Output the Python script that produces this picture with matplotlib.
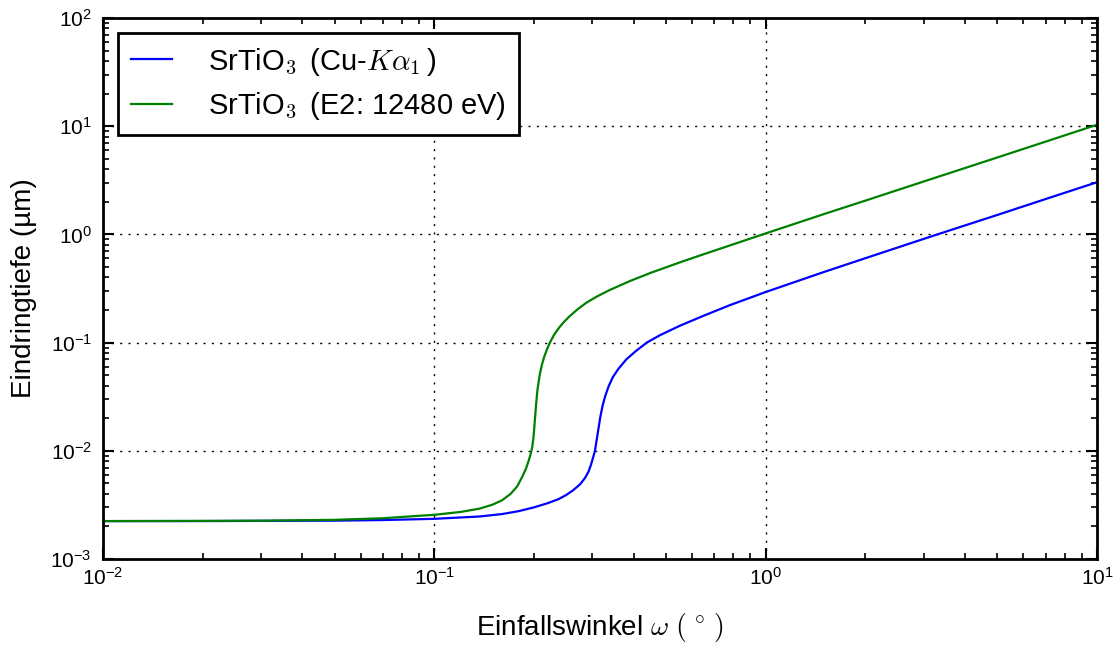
import matplotlib
matplotlib.use("Agg")
import matplotlib.pyplot as plt
from matplotlib.ticker import LogLocator, NullFormatter

plt.rcParams.update({
    "font.family": ["Liberation Sans", "DejaVu Sans"],
    "mathtext.fontset": "cm",
    "axes.linewidth": 2.0,
    "xtick.direction": "in",
    "ytick.direction": "in",
    "xtick.top": True,
    "ytick.right": True,
    "xtick.major.size": 8,
    "ytick.major.size": 8,
    "xtick.minor.size": 4,
    "ytick.minor.size": 4,
    "xtick.major.width": 1.5,
    "ytick.major.width": 1.5,
    "xtick.minor.width": 1.2,
    "ytick.minor.width": 1.2,
    "xtick.major.pad": 6,
    "ytick.major.pad": 8,
})

# incidence angle (deg) and penetration depth (um), SrTiO3 at Cu-K alpha1
omega_cu = [0.01, 0.02, 0.03, 0.05, 0.07, 0.1, 0.137, 0.16, 0.18, 0.20, 0.22,
            0.237, 0.25, 0.262, 0.2755, 0.285, 0.292, 0.297, 0.301, 0.3055,
            0.309, 0.313, 0.317, 0.322, 0.328, 0.336, 0.346, 0.36, 0.38, 0.405,
            0.438, 0.48, 0.551, 0.65, 0.781, 1.0, 1.5, 2.0, 3.19, 5.0, 7.0, 10.0]
depth_cu = [0.00224, 0.00224, 0.00225, 0.00226, 0.00229, 0.00235, 0.00247,
            0.00260, 0.00277, 0.00300, 0.00328, 0.00357, 0.00390, 0.00430,
            0.00490, 0.00560, 0.00640, 0.00740, 0.00850, 0.0100, 0.0125,
            0.0160, 0.0205, 0.0260, 0.0320, 0.0395, 0.0480, 0.0575, 0.0700,
            0.0830, 0.100, 0.117, 0.143, 0.177, 0.222, 0.293, 0.449, 0.602,
            0.966, 1.51, 2.12, 3.03]

# SrTiO3 at E2 = 12480 eV
omega_e2 = [0.01, 0.02, 0.03, 0.05, 0.07, 0.1, 0.12, 0.137, 0.15, 0.16, 0.17,
            0.178, 0.184, 0.189, 0.193, 0.1955, 0.1975, 0.199, 0.2003, 0.2015,
            0.203, 0.2047, 0.208, 0.211, 0.2145, 0.219, 0.2234, 0.23, 0.238,
            0.245, 0.255, 0.27, 0.288, 0.31, 0.34, 0.39, 0.45, 0.551, 0.65,
            0.781, 1.0, 1.5, 2.0, 3.0, 5.0, 7.0, 10.0]
depth_e2 = [0.00224, 0.00225, 0.00226, 0.00230, 0.00238, 0.00256, 0.00272,
            0.00292, 0.00318, 0.00348, 0.00400, 0.00470, 0.00570, 0.00680,
            0.00820, 0.00940, 0.0108, 0.0128, 0.0160, 0.0205, 0.0272, 0.0360,
            0.0500, 0.0615, 0.0735, 0.0870, 0.100, 0.1184, 0.1372, 0.1525,
            0.1729, 0.2018, 0.234, 0.267, 0.308, 0.371, 0.441, 0.551, 0.655,
            0.791, 1.02, 1.54, 2.05, 3.08, 5.13, 7.19, 10.3]

series_labels = [r"SrTiO$_3\,$ (Cu-$K\alpha_1\,$)", r"SrTiO$_3\,$ (E2: 12480 eV)"]
series_colors = ["#0000ff", "#008000"]

fig = plt.figure(figsize=(11.17, 6.46), dpi=100)
ax = fig.add_axes([0.0922, 0.1347, 0.8898, 0.8375])

ax.plot(omega_cu, depth_cu, color=series_colors[0], lw=1.6, label=series_labels[0])
ax.plot(omega_e2, depth_e2, color=series_colors[1], lw=1.6, label=series_labels[1])

ax.set_xscale("log")
ax.set_yscale("log")
ax.set_xlim(1e-2, 1e1)
ax.set_ylim(1e-3, 1e2)
for axis in (ax.xaxis, ax.yaxis):
    axis.set_minor_locator(LogLocator(base=10, subs=range(2, 10)))
    axis.set_minor_formatter(NullFormatter())
ax.tick_params(labelsize=15)

ax.grid(True, which="major", color="black", linestyle=(0, (1.5, 4.5)), linewidth=1.0)

ax.set_xlabel(r"Einfallswinkel $\omega$ $(\,^\circ\,)$", fontsize=20, labelpad=16)
ax.set_ylabel("Eindringtiefe (µm)", fontsize=20, labelpad=10)

leg = ax.legend(loc="upper left", fontsize=21, frameon=True, fancybox=False,
                framealpha=1, edgecolor="black", handlelength=1.4,
                handletextpad=1.25, borderpad=0.45, labelspacing=0.42,
                borderaxespad=0.5)
leg.get_frame().set_linewidth(2.0)

fig.savefig("out.png", dpi=100)
